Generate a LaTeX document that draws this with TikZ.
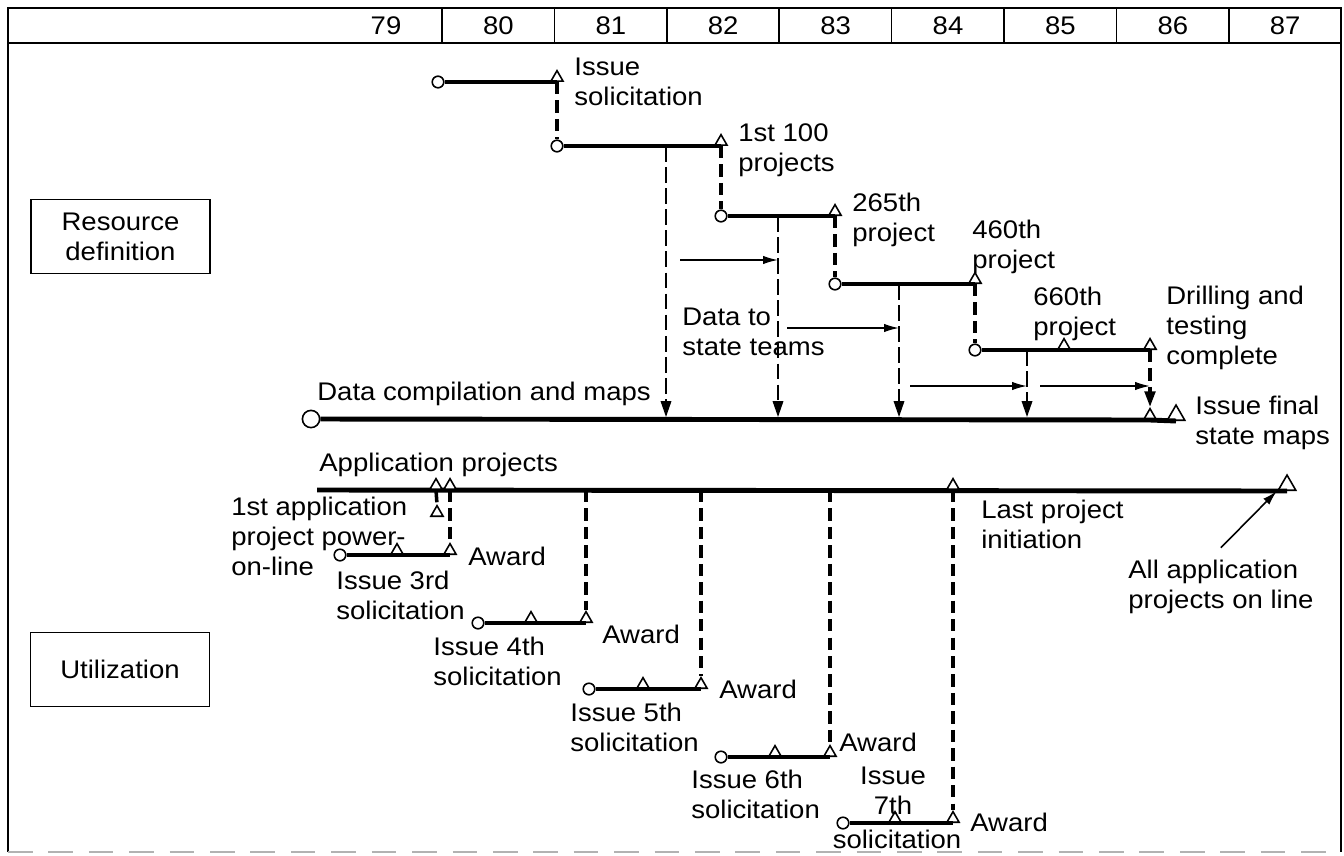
\documentclass[tikz,border=0pt]{standalone}
\usepackage{fontspec}
\setmainfont{Liberation Sans}[FakeStretch=1.08]
\usetikzlibrary{shapes.geometric, arrows.meta, positioning}
\tikzset{ring/.style={circle, draw, fill=white, line width=0.9pt, inner sep=0pt, minimum size=6.6pt},
    bigring/.style={ring, minimum size=9.8pt},
    tri/.style={regular polygon, regular polygon sides=3, draw, fill=white, line width=0.9pt, inner sep=0pt, minimum size=8pt, anchor=south},
    bigtri/.style={tri, minimum size=11.5pt},
    thickbar/.style={line width=2.8pt},
    link/.style={line width=2pt, dash pattern=on 7pt off 3.5pt},
    flow/.style={line width=0.85pt, dash pattern=on 9pt off 3pt, -{Triangle[length=9pt,width=6pt]}},
    push/.style={line width=0.9pt, -{Latex[length=8.5pt,width=4.8pt]}},
    lbl/.style={align=left, inner sep=0pt, anchor=north west},
    phase/.style={draw, line width=1pt, minimum width=102pt, minimum height=42pt, align=center},
    rule/.style={line width=1pt}}

\begin{document}
\begin{tikzpicture}[x=0.02cm, y=-0.02cm, every node/.style={font={\fontsize{14.5}{17}\selectfont}}]
                 \useasboundingbox (0,0) rectangle (1344,855);
                 % frame and years
                 \draw[rule] (8,852) -- (8,8) -- (1341,8) -- (1341,852);
                 \draw[rule] (8,43) -- (1341,43);
                 \draw[gray!60, line width=1pt, dash pattern=on 14pt off 9pt] (8,852) -- (1341,852);
                 \foreach \i in {0,...,7}
                    \draw[rule] ({442+112.4*\i},8) -- ({442+112.4*\i},43);
                 \foreach \y [count=\i from 0] in {79,...,87}
                    \node (yr\y) at ({386+112.4*\i},26) {\y};

                 \node[phase] (resdef) at (120.5,236.5) {Resource\\definition};
                 \node[phase] (util) at (120,669.5) {Utilization};

                 % resource definition
                 \node[ring] (r1a) at (438,82) {};
                 \node[tri] (r1b) at (557,82) {};
                 \node[ring] (r2a) at (557,146) {};
                 \node[tri] (r2b) at (721,146) {};
                 \node[ring] (r3a) at (721,216) {};
                 \node[tri] (r3b) at (835,216) {};
                 \node[ring] (r4a) at (835,284) {};
                 \node[tri] (r4b) at (975,284) {};
                 \node[ring] (r5a) at (975,350) {};
                 \node[tri] (r5m) at (1064,350) {};
                 \node[tri] (r5b) at (1150,350) {};
                 \draw[thickbar] (r1a) -- (r1b.south);
                 \draw[thickbar] (r2a) -- (r2b.south);
                 \draw[thickbar] (r3a) -- (r3b.south);
                 \draw[thickbar] (r4a) -- (r4b.south);
                 \draw[thickbar] (r5a) -- (r5m.south) -- (r5b.south);
                 \draw[link] (r1b.south) -- (r2a);
                 \draw[link] (r2b.south) -- (r3a);
                 \draw[link] (r3b.south) -- (r4a);
                 \draw[link] (r4b.south) -- (r5a);

                 \node[bigring] (dc0) at (311,419) {};
                 \node[tri] (dc1) at (1150,420) {};
                 \node[bigtri] (dc2) at (1176,421) {};
                 \draw[thickbar] (dc0) -- (dc1.south) -- (dc2.south);

                 \coordinate (d1) at (666,417);
                 \coordinate (d2) at (778,417);
                 \coordinate (d3) at (899,417);
                 \coordinate (d4) at (1027,417);
                 \draw[flow] (d1 |- r2a) -- (d1);
                 \draw[flow] (d2 |- r3a) -- (d2);
                 \draw[flow] (d3 |- r4a) -- (d3);
                 \draw[flow] (d4 |- r5a) -- (d4);
                 \draw[link, -{Triangle[length=9pt,width=6pt]}] (r5b.south) -- (dc1.north);

                 \coordinate (p1) at (680,260);
                 \coordinate (p2) at (787,328);
                 \coordinate (p3) at (910,386);
                 \coordinate (p4) at (1040,386);
                 \draw[push] (p1) -- (p1 -| d2);
                 \draw[push] (p2) -- (p2 -| d3);
                 \draw[push] (p3) -- (p3 -| d4);
                 \draw[push] (p4) -- (p4 -| dc1);

                 \node[lbl] (l1) at (574,58) {Issue\\solicitation};
                 \node[lbl] (l2) at (738,123) {1st 100\\projects};
                 \node[lbl] (l3) at (852,193) {265th\\project};
                 \node[lbl] (l4) at (972,220) {460th\\project};
                 \node[lbl] (l5) at (1033,287) {660th\\project};
                 \node[lbl] (l6) at (1166,286) {Drilling and\\testing\\complete};
                 \node[lbl] (ldc) at (317,382) {Data compilation and maps};
                 \node[lbl] (lds) at (682,308) {Data to\\state teams};
                 \node[lbl] (lfin) at (1195,396) {Issue final\\state maps};

                 % utilization
                 \coordinate (a0) at (317,490);
                 \node[bigtri] (aend) at (1287,491) {};
                 \draw[thickbar] (a0) -- (aend.south);
                 \node[tri] (at1) at (436,490) {};
                 \node[tri] (at2) at (450,490) {};
                 \node[tri] (ap) at (437,517) {};
                 \node[tri] (alast) at (953,490) {};
                 \draw[link] (at1.south) -- (ap.north);

                 \node[ring] (u3a) at (340,555) {};
                 \node[tri] (u3m) at (397,555) {};
                 \node[tri] (u3b) at (450,555) {};
                 \node[ring] (u4a) at (478,623) {};
                 \node[tri] (u4m) at (531,623) {};
                 \node[tri] (u4b) at (586,623) {};
                 \node[ring] (u5a) at (589,689) {};
                 \node[tri] (u5m) at (643,689) {};
                 \node[tri] (u5b) at (701,689) {};
                 \node[ring] (u6a) at (721,757) {};
                 \node[tri] (u6m) at (775,757) {};
                 \node[tri] (u6b) at (830,757) {};
                 \node[ring] (u7a) at (843,823) {};
                 \node[tri] (u7m) at (895,823) {};
                 \node[tri] (u7b) at (953,823) {};
                 \draw[thickbar] (u3a) -- (u3m.south) -- (u3b.south);
                 \draw[thickbar] (u4a) -- (u4m.south) -- (u4b.south);
                 \draw[thickbar] (u5a) -- (u5m.south) -- (u5b.south);
                 \draw[thickbar] (u6a) -- (u6m.south) -- (u6b.south);
                 \draw[thickbar] (u7a) -- (u7m.south) -- (u7b.south);
                 \draw[link] (at2.south) -- (u3b.north);
                 \draw[link] (u4b |- a0) -- (u4b.north);
                 \draw[link] (u5b |- a0) -- (u5b.north);
                 \draw[link] (u6b |- a0) -- (u6b.north);
                 \draw[link] (alast.south) -- (u7b.north);

                 \node[lbl] (lap) at (319,453) {Application projects};
                 \node[lbl] (l1st) at (231,497) {1st application\\project power-\\on-line};
                 \node[lbl] (w3) at (468,547) {Award};
                 \node[lbl] (i3) at (336,571) {Issue 3rd\\solicitation};
                 \node[lbl] (w4) at (602,625) {Award};
                 \node[lbl] (i4) at (433,637) {Issue 4th\\solicitation};
                 \node[lbl] (w5) at (719,680) {Award};
                 \node[lbl] (i5) at (570,703) {Issue 5th\\solicitation};
                 \node[lbl] (w6) at (839,733) {Award};
                 \node[lbl] (i6) at (691,770) {Issue 6th\\solicitation};
                 \node[align=center, inner sep=0pt, anchor=north] (i7) at (893,767) {Issue\\7th};
                 \node[inner sep=0pt, anchor=north] (i7b) at (897,830) {solicitation};
                 \node[lbl] (w7) at (970,813) {Award};
                 \node[lbl] (llast) at (981,500) {Last project\\initiation};
                 \node[lbl] (lall) at (1128,560) {All application\\projects on line};
                 \draw[push] ([yshift=7pt]lall.north) -- (aend.corner 2);
\end{tikzpicture}
\end{document}
